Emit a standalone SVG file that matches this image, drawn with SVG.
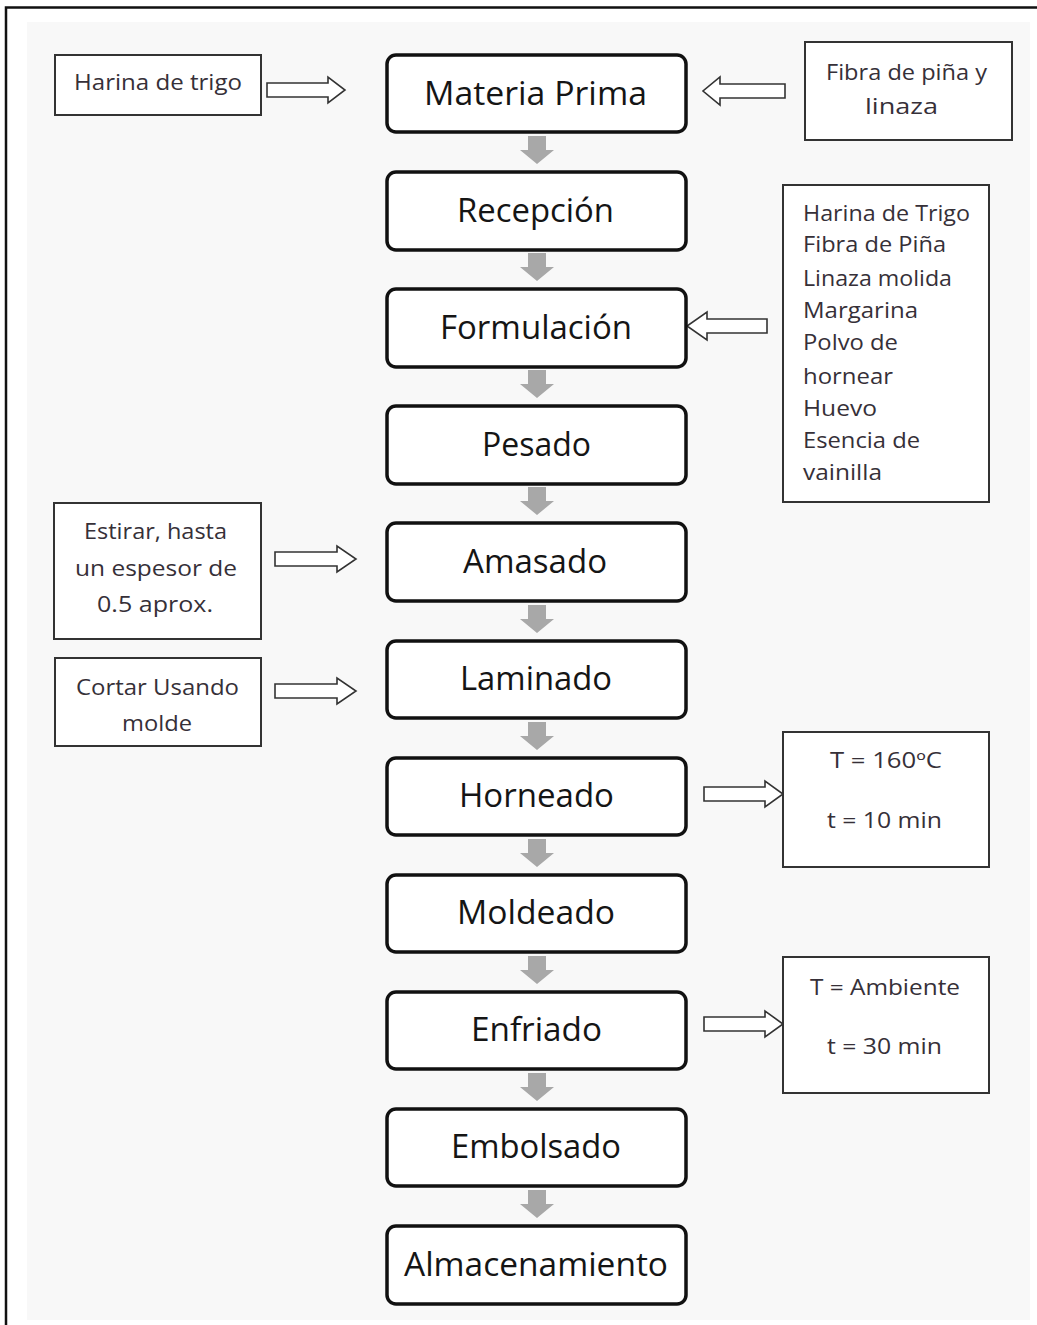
<svg xmlns="http://www.w3.org/2000/svg" width="1037" height="1325" viewBox="0 0 1037 1325">
<style>
.main{fill:#fff;stroke:#111;stroke-width:3.5}
.side{fill:#fff;stroke:#333;stroke-width:2}
.ml{font-family:"Open Sans","Liberation Sans",sans-serif;font-size:33px;fill:#151515}
.sl{font-family:"Open Sans","Liberation Sans",sans-serif;font-size:21px;fill:#363038}
.ha{fill:#fff;stroke:#333;stroke-width:1.6;stroke-linejoin:miter}
.ga{fill:#a8a8a8}
</style>
<defs>
<path id="garrow" d="M-9 0 H9 V14 H17 L0 28 L-17 14 H-9 Z"/>
</defs>
<rect x="0" y="0" width="1037" height="1325" fill="#fff"/>
<rect x="27" y="22" width="1003" height="1298" fill="#f8f8f8"/>
<path d="M6 1325 V7.5 H1037" fill="none" stroke="#111" stroke-width="2.5"/>

<g id="connectors">
<use href="#garrow" class="ga" x="537" y="136"/>
<use href="#garrow" class="ga" x="537" y="253"/>
<use href="#garrow" class="ga" x="537" y="370"/>
<use href="#garrow" class="ga" x="537" y="487"/>
<use href="#garrow" class="ga" x="537" y="605"/>
<use href="#garrow" class="ga" x="537" y="722"/>
<use href="#garrow" class="ga" x="537" y="839"/>
<use href="#garrow" class="ga" x="537" y="956"/>
<use href="#garrow" class="ga" x="537" y="1073"/>
<use href="#garrow" class="ga" x="537" y="1190"/>
<path class="ha" d="M267 83 H328 V77 L345 90 L328 103 V97 H267 Z"/>
<path class="ha" d="M785 84 H720 V77 L703 91 L720 105 V98 H785 Z"/>
<path class="ha" d="M767 319 H707 V312 L687 326 L707 340 V333 H767 Z"/>
<path class="ha" d="M275 552 H337 V546 L356 559 L337 572 V566 H275 Z"/>
<path class="ha" d="M275 684 H337 V678 L356 691 L337 704 V698 H275 Z"/>
<path class="ha" d="M704 787 H765 V781 L783 794 L765 807 V801 H704 Z"/>
<path class="ha" d="M704 1017 H765 V1011 L783 1024 L765 1037 V1031 H704 Z"/>
</g>

<g id="materia-prima"><rect class="main" x="387" y="55" width="299" height="77" rx="9"/><text class="ml" x="424" y="105" textLength="223" lengthAdjust="spacingAndGlyphs">Materia Prima</text></g>
<g id="recepcion"><rect class="main" x="387" y="172" width="299" height="78" rx="9"/><text class="ml" x="457" y="222" textLength="157" lengthAdjust="spacingAndGlyphs">Recepción</text></g>
<g id="formulacion"><rect class="main" x="387" y="289" width="299" height="78" rx="9"/><text class="ml" x="440" y="339" textLength="192" lengthAdjust="spacingAndGlyphs">Formulación</text></g>
<g id="pesado"><rect class="main" x="387" y="406" width="299" height="78" rx="9"/><text class="ml" x="482" y="456" textLength="109" lengthAdjust="spacingAndGlyphs">Pesado</text></g>
<g id="amasado"><rect class="main" x="387" y="523" width="299" height="78" rx="9"/><text class="ml" x="463" y="573" textLength="144" lengthAdjust="spacingAndGlyphs">Amasado</text></g>
<g id="laminado"><rect class="main" x="387" y="641" width="299" height="77" rx="9"/><text class="ml" x="460" y="690" textLength="152" lengthAdjust="spacingAndGlyphs">Laminado</text></g>
<g id="horneado"><rect class="main" x="387" y="758" width="299" height="77" rx="9"/><text class="ml" x="459" y="807" textLength="155" lengthAdjust="spacingAndGlyphs">Horneado</text></g>
<g id="moldeado"><rect class="main" x="387" y="875" width="299" height="77" rx="9"/><text class="ml" x="457" y="924" textLength="158" lengthAdjust="spacingAndGlyphs">Moldeado</text></g>
<g id="enfriado"><rect class="main" x="387" y="992" width="299" height="77" rx="9"/><text class="ml" x="471" y="1041" textLength="131" lengthAdjust="spacingAndGlyphs">Enfriado</text></g>
<g id="embolsado"><rect class="main" x="387" y="1109" width="299" height="77" rx="9"/><text class="ml" x="451" y="1158" textLength="170" lengthAdjust="spacingAndGlyphs">Embolsado</text></g>
<g id="almacenamiento"><rect class="main" x="387" y="1226" width="299" height="78" rx="9"/><text class="ml" x="404" y="1276" textLength="264" lengthAdjust="spacingAndGlyphs">Almacenamiento</text></g>

<g id="harina-de-trigo"><rect class="side" x="55" y="55" width="206" height="60"/><text class="sl" x="74" y="90" textLength="168" lengthAdjust="spacingAndGlyphs">Harina de trigo</text></g>
<g id="fibra-linaza"><rect class="side" x="805" y="42" width="207" height="98"/>
<text class="sl" x="826" y="80" textLength="161" lengthAdjust="spacingAndGlyphs">Fibra de piña y</text>
<text class="sl" x="865" y="114" textLength="73" lengthAdjust="spacingAndGlyphs">linaza</text></g>
<g id="ingredientes"><rect class="side" x="783" y="185" width="206" height="317"/>
<text class="sl" x="803" y="221" textLength="167" lengthAdjust="spacingAndGlyphs">Harina de Trigo</text>
<text class="sl" x="803" y="252" textLength="143" lengthAdjust="spacingAndGlyphs">Fibra de Piña</text>
<text class="sl" x="803" y="286" textLength="149" lengthAdjust="spacingAndGlyphs">Linaza molida</text>
<text class="sl" x="803" y="318" textLength="115" lengthAdjust="spacingAndGlyphs">Margarina</text>
<text class="sl" x="803" y="350" textLength="95" lengthAdjust="spacingAndGlyphs">Polvo de</text>
<text class="sl" x="803" y="384" textLength="90" lengthAdjust="spacingAndGlyphs">hornear</text>
<text class="sl" x="803" y="416" textLength="74" lengthAdjust="spacingAndGlyphs">Huevo</text>
<text class="sl" x="803" y="448" textLength="117" lengthAdjust="spacingAndGlyphs">Esencia de</text>
<text class="sl" x="803" y="480" textLength="79" lengthAdjust="spacingAndGlyphs">vainilla</text></g>
<g id="estirar"><rect class="side" x="54" y="503" width="207" height="136"/>
<text class="sl" x="84" y="539" textLength="143" lengthAdjust="spacingAndGlyphs">Estirar, hasta</text>
<text class="sl" x="75" y="576" textLength="162" lengthAdjust="spacingAndGlyphs">un espesor de</text>
<text class="sl" x="97" y="612" textLength="116" lengthAdjust="spacingAndGlyphs">0.5 aprox.</text></g>
<g id="cortar"><rect class="side" x="55" y="658" width="206" height="88"/>
<text class="sl" x="76" y="695" textLength="163" lengthAdjust="spacingAndGlyphs">Cortar Usando</text>
<text class="sl" x="122" y="731" textLength="70" lengthAdjust="spacingAndGlyphs">molde</text></g>
<g id="horneado-cond"><rect class="side" x="783" y="732" width="206" height="135"/>
<text class="sl" x="830" y="768" textLength="112" lengthAdjust="spacingAndGlyphs">T = 160ºC</text>
<text class="sl" x="827" y="828" textLength="115" lengthAdjust="spacingAndGlyphs">t = 10 min</text></g>
<g id="enfriado-cond"><rect class="side" x="783" y="957" width="206" height="136"/>
<text class="sl" x="810" y="995" textLength="150" lengthAdjust="spacingAndGlyphs">T = Ambiente</text>
<text class="sl" x="827" y="1054" textLength="115" lengthAdjust="spacingAndGlyphs">t = 30 min</text></g>
</svg>
